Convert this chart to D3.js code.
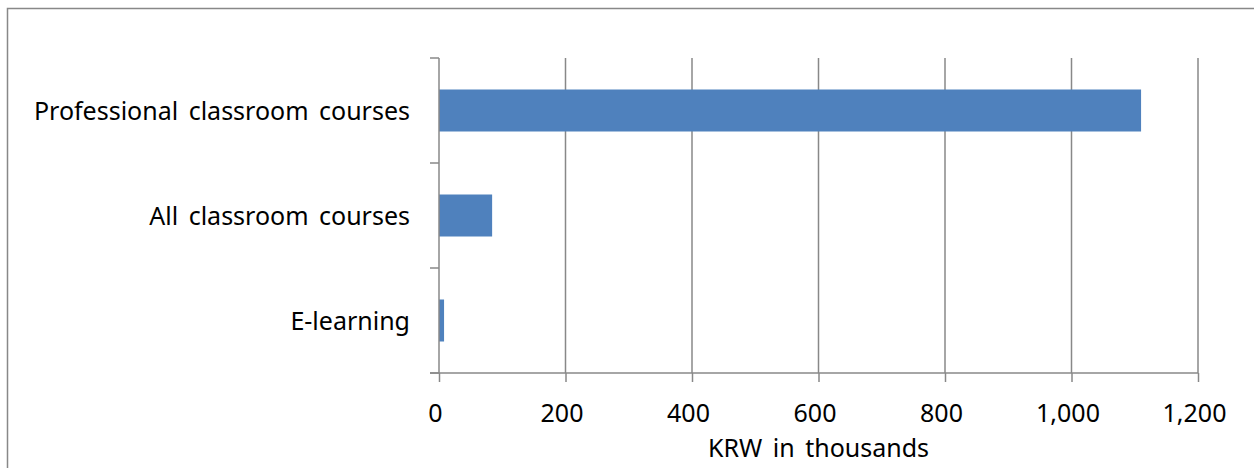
<!DOCTYPE html>
<html><head><meta charset="utf-8">
<script src="https://cdn.jsdelivr.net/npm/d3@7"></script>
<style>body{margin:0;background:#fff}svg{display:block}</style>
</head><body>
<svg id="c" width="1254" height="468"></svg>
<script>
const categories = ["Professional classroom courses", "All classroom courses", "E-learning"];
const values = [1110, 84, 8];
const xTicks = [0, 200, 400, 600, 800, 1000, 1200];
const xTitle = "KRW in thousands";

const svg = d3.select("#c");
const font = "'Noto Sans', sans-serif";
const gridCol = "#888888";

// outer frame
svg.append("rect").attr("x", 7.5).attr("y", 8.5).attr("width", 1260).attr("height", 470)
  .attr("fill", "none").attr("stroke", gridCol).attr("stroke-width", 1.5);

const x = d3.scaleLinear().domain([0, 1200]).range([439, 1198]);
const y = d3.scaleBand().domain(categories).range([58, 373]).paddingInner(0.6).paddingOuter(0.3);

// gridlines
svg.append("g").selectAll("line").data(xTicks.slice(1)).join("line")
  .attr("x1", d => x(d)).attr("x2", d => x(d)).attr("y1", 58).attr("y2", 373)
  .attr("stroke", gridCol).attr("stroke-width", 1.5);

// bars
svg.append("g").selectAll("rect").data(values).join("rect")
  .attr("x", x(0)).attr("y", (d, i) => y(categories[i]))
  .attr("width", d => x(d) - x(0)).attr("height", y.bandwidth())
  .attr("fill", "#4F81BD");

// x axis
const xAxis = svg.append("g").attr("transform", "translate(0,373)")
  .call(d3.axisBottom(x).tickValues(xTicks).tickSize(9).tickPadding(0)
    .tickFormat(d3.format(",")));
xAxis.select(".domain").attr("stroke", gridCol).attr("stroke-width", 1.5).attr("d", "M430,0H1198");
xAxis.selectAll(".tick line").attr("stroke", gridCol).attr("stroke-width", 1.5);
xAxis.selectAll(".tick text").attr("font-family", font).attr("font-size", 25).attr("fill", "#000")
  .attr("y", 49).attr("dy", null).attr("dx", -4);

// y axis
const yBound = d3.scaleLinear().domain([0, 3]).range([58, 373]);
const yAxis = svg.append("g").attr("transform", "translate(439,0)");
yAxis.append("line").attr("x1", 0).attr("x2", 0).attr("y1", 58).attr("y2", 373)
  .attr("stroke", gridCol).attr("stroke-width", 1.5);
yAxis.selectAll("line.t").data([0, 1, 2, 3]).join("line").attr("class", "t")
  .attr("x1", -9).attr("x2", 0).attr("y1", d => yBound(d)).attr("y2", d => yBound(d))
  .attr("stroke", gridCol).attr("stroke-width", 1.5);
yAxis.selectAll("text").data(categories).join("text")
  .attr("x", -29).attr("y", d => y(d) + y.bandwidth() / 2 + 9)
  .attr("text-anchor", "end").attr("word-spacing", 4)
  .attr("font-family", font).attr("font-size", 25).attr("fill", "#000").text(d => d);

// x title
svg.append("text").attr("x", (x(0) + x(1200)) / 2).attr("y", 457)
  .attr("text-anchor", "middle").attr("font-family", font).attr("font-size", 25)
  .attr("word-spacing", 4).attr("fill", "#000").text(xTitle);
</script>
</body></html>
